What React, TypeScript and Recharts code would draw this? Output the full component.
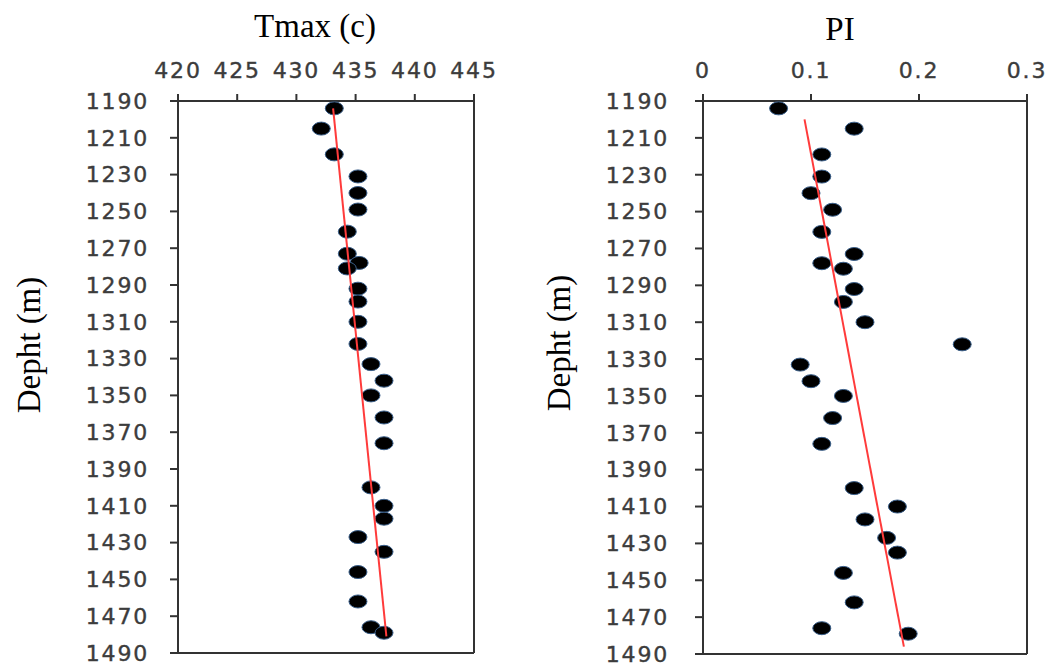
import { ScatterChart, Scatter, XAxis, YAxis, ReferenceLine } from 'recharts';

// depth of each sample (m), shared by both panels
const depths = [
  1194, 1205, 1219, 1231, 1240, 1249, 1261, 1273, 1278, 1281, 1292, 1299, 1310, 1322,
  1333, 1342, 1350, 1362, 1376, 1400, 1410, 1417, 1427, 1435, 1446, 1462, 1476, 1479,
];
const tmaxValues = [
  433.2, 432.1, 433.2, 435.2, 435.2, 435.2, 434.3, 434.3, 435.3, 434.3, 435.2, 435.2, 435.2, 435.2,
  436.3, 437.4, 436.3, 437.4, 437.4, 436.3, 437.4, 437.4, 435.2, 437.4, 435.2, 435.2, 436.3, 437.4,
];
const piValues = [
  0.07, 0.14, 0.11, 0.11, 0.10, 0.12, 0.11, 0.14, 0.11, 0.13, 0.14, 0.13, 0.15, 0.24,
  0.09, 0.10, 0.13, 0.12, 0.11, 0.14, 0.18, 0.15, 0.17, 0.18, 0.13, 0.14, 0.11, 0.19,
];

// trend line end points
const tmaxTrend = [{ x: 433.1, y: 1194 }, { x: 437.6, y: 1481 }];
const piTrend = [{ x: 0.094, y: 1200 }, { x: 0.186, y: 1486 }];

const depthTicks = [1190, 1210, 1230, 1250, 1270, 1290, 1310, 1330, 1350, 1370, 1390, 1410, 1430, 1450, 1470, 1490];
const tmaxTicks = [420, 425, 430, 435, 440, 445];
const piTicks = [0, 0.1, 0.2, 0.3];

const tmaxData = depths.map((d, i) => ({ x: tmaxValues[i], y: d }));
const piData = depths.map((d, i) => ({ x: piValues[i], y: d }));

const tickStyle = {
  fill: '#3c3c3c', fontSize: 22, fontFamily: 'DejaVu Sans', letterSpacing: 1.8,
  stroke: '#3c3c3c', strokeWidth: 0.4,
};
const axisStyle = { stroke: '#333', strokeWidth: 2 };
const serif = 'Liberation Serif, Times New Roman, serif';

const Dot = (p: any) => (
  <ellipse cx={p.cx} cy={p.cy} rx={9} ry={6.5} fill="#000" stroke="#3a5f8a" strokeWidth={1} />
);
const NoDot = () => <g />;

const title = (text: string, x: number, y: number) => ({
  content: () => (
    <text x={x} y={y} textAnchor="middle" fontFamily={serif} fontSize={33} fill="#000">{text}</text>
  ),
});
const sideLabel = (x: number, y: number) => ({
  content: () => (
    <text x={x} y={y} textAnchor="middle" fontFamily={serif} fontSize={33} fill="#000"
      transform={`rotate(-90 ${x} ${y})`}>Depht (m)</text>
  ),
});

export default function App() {
  return (
    <div style={{ position: 'absolute', left: 0, top: 0, width: 1051, height: 664, background: '#fff' }}>
      <div style={{ position: 'absolute', left: 0, top: 0 }}>
        <ScatterChart width={520} height={664} margin={{ top: 60, right: 46, bottom: 11, left: 88 }}>
          <XAxis type="number" dataKey="x" orientation="top" domain={[420, 445]} ticks={tmaxTicks}
            height={41} tick={tickStyle} tickSize={7} tickMargin={16} axisLine={axisStyle} tickLine={axisStyle}
            allowDataOverflow label={title('Tmax (c)', 315, 37)} />
          <YAxis type="number" dataKey="y" reversed domain={[1190, 1490]} ticks={depthTicks} interval={0}
            width={90} tick={tickStyle} tickSize={8} tickMargin={21} axisLine={axisStyle} tickLine={axisStyle}
            allowDataOverflow label={sideLabel(40, 345)} />
          <ReferenceLine x={445} stroke="#333" strokeWidth={2} />
          <ReferenceLine y={1490} stroke="#333" strokeWidth={2} />
          <Scatter data={tmaxData} shape={Dot} isAnimationActive={false} />
          <Scatter data={tmaxTrend} shape={NoDot} line={{ stroke: '#ff3b3b', strokeWidth: 2 }} isAnimationActive={false} />
        </ScatterChart>
      </div>
      <div style={{ position: 'absolute', left: 520, top: 0 }}>
        <ScatterChart width={531} height={664} margin={{ top: 60, right: 24, bottom: 10, left: 93 }}>
          <XAxis type="number" dataKey="x" orientation="top" domain={[0, 0.3]} ticks={piTicks}
            height={41} tick={tickStyle} tickSize={7} tickMargin={16} axisLine={axisStyle} tickLine={axisStyle}
            allowDataOverflow label={title('PI', 320, 40)} />
          <YAxis type="number" dataKey="y" reversed domain={[1190, 1490]} ticks={depthTicks} interval={0}
            width={90} tick={tickStyle} tickSize={8} tickMargin={26} axisLine={axisStyle} tickLine={axisStyle}
            allowDataOverflow label={sideLabel(50, 343)} />
          <ReferenceLine x={0.3} stroke="#333" strokeWidth={2} />
          <ReferenceLine y={1490} stroke="#333" strokeWidth={2} />
          <Scatter data={piData} shape={Dot} isAnimationActive={false} />
          <Scatter data={piTrend} shape={NoDot} line={{ stroke: '#ff3b3b', strokeWidth: 2 }} isAnimationActive={false} />
        </ScatterChart>
      </div>
    </div>
  );
}
